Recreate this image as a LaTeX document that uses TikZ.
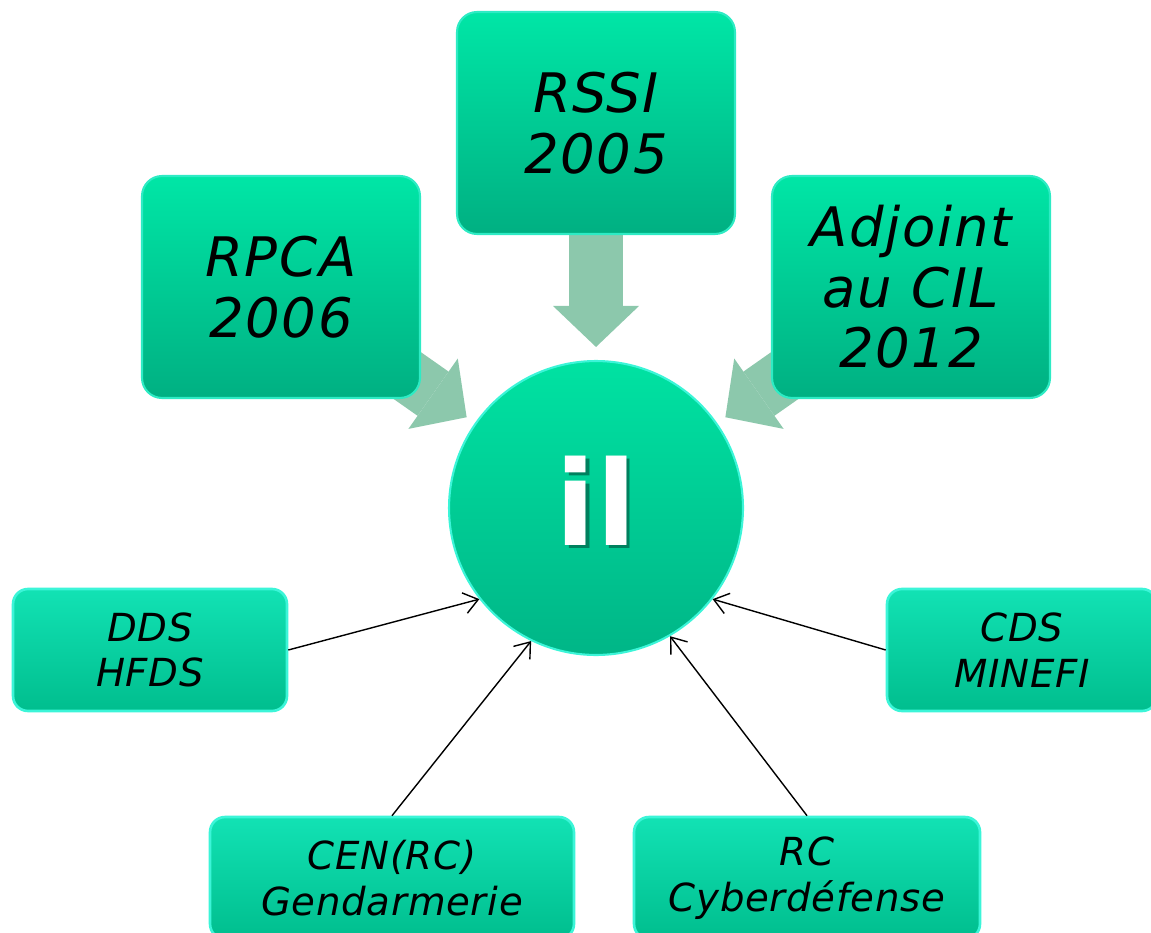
\documentclass[tikz,border=0pt]{standalone}
\usepackage{fontspec}
\setmainfont{DejaVu Sans}
\usepackage{tikz}
\usetikzlibrary{positioning}
\usetikzlibrary{arrows.meta}
\usetikzlibrary{backgrounds}
\usepackage{xcolor}

\definecolor{boxtop}{HTML}{00E6A6}
\definecolor{boxbottom}{HTML}{00B082}
\definecolor{boxrim}{HTML}{2EEBC4}
\definecolor{tagtop}{HTML}{12E2B4}
\definecolor{tagbottom}{HTML}{00BE8E}
\definecolor{tagrim}{HTML}{3CF5D8}
\definecolor{hubtop}{HTML}{00E2A2}
\definecolor{hubbottom}{HTML}{00B687}
\definecolor{hubshadow}{HTML}{00805E}
\definecolor{arrowgreen}{HTML}{8CC8AC}

\tikzset{
  bigbox/.style={rectangle, rounded corners=0.4cm, top color=boxtop, bottom color=boxbottom,
    draw=boxrim, line width=1.2pt, minimum width=5.56cm, minimum height=4.44cm,
    align=center, font=\fontsize{31}{34.5}\selectfont\itshape\addfontfeature{LetterSpace=3}},
  tagbox/.style={rectangle, rounded corners=0.3cm, top color=tagtop, bottom color=tagbottom,
    draw=tagrim, line width=1.5pt, minimum height=2.44cm,
    align=center, font=\fontsize{22}{26}\selectfont\itshape\addfontfeature{LetterSpace=2}},
  hub/.style={circle, top color=hubtop, bottom color=hubbottom, draw=tagrim,
    line width=1.2pt, minimum size=5.88cm, inner sep=0pt},
  hubtext/.style={font=\fontsize{67}{70}\selectfont\bfseries, inner sep=0pt},
  bigarrow/.style={draw=arrowgreen, line width=1.08cm,
    -{Triangle[length=0.82cm, width=1.72cm, line width=0pt]}},
  thinarrow/.style={black, line width=0.8pt,
    -{Straight Barb[length=0.28cm, width=0.42cm]}}
}

\begin{document}
\begin{tikzpicture}[x=0.02cm, y=-0.02cm]

\useasboundingbox (0,0) rectangle (1151,932);

% hub
\node[hub] (il) at (596,508) {};
\node[hubtext] (iltext) at ([yshift=0.12cm]il.center)
  {\rlap{\hspace{0.07cm}\raisebox{-0.06cm}{\color{hubshadow}il}}\color{white}il};

% upper boxes
{
\node[bigbox] (rssi) at (596,123) {RSSI\\2005};
\node[bigbox] (rpca) at (281,287) {RPCA\\2006};
\node[bigbox] (adjoint) at (911,287) {Adjoint\\au CIL\\2012};
}

% lower boxes
{
\node[tagbox, minimum width=5.48cm] (dds) at (150,650) {DDS\\HFDS};
\node[tagbox, minimum width=5.40cm] (cds) at (1022,650) {CDS\\MINEFI};
\node[tagbox, minimum width=7.28cm] (cen) at (392,878) {CEN(RC)\\Gendarmerie};
\node[tagbox, minimum width=6.92cm] (rc) at (807,878) {RC\\Cyberdéfense};
}

% big arrows
\begin{scope}[on background layer]
\draw[bigarrow, shorten >=0.26cm] (rssi.center) -- (il);
\draw[bigarrow, shorten >=0.2cm] (rpca.center) -- (il);
\draw[bigarrow, shorten >=0.2cm] (adjoint.center) -- (il);
\end{scope}

% thin arrows
\draw[thinarrow] (dds.east) -- (il.218);
\draw[thinarrow] (cds.west) -- (il.322);
\draw[thinarrow] (cen.north) -- (il.244);
\draw[thinarrow] (rc.north) -- (il.300);

\end{tikzpicture}
\end{document}
